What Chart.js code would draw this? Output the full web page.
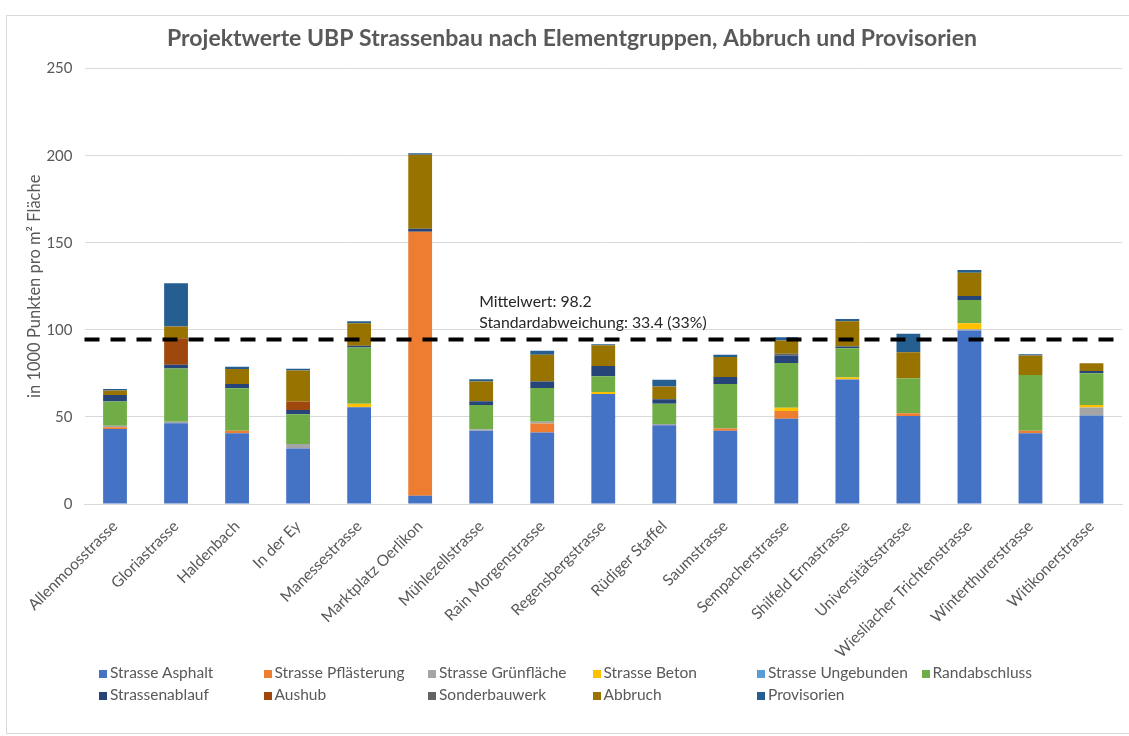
<!DOCTYPE html>
<html>
<head>
<meta charset="utf-8">
<script src="https://cdn.jsdelivr.net/npm/chart.js@4"></script>
<style>
  body { margin: 0; background: #fff; }
  #wrap { position: relative; width: 1129px; height: 736px; overflow: hidden; }
  #frame { position: absolute; left: 6px; top: 15px; width: 1140px; height: 717px; border: 1px solid #d9d9d9; }
  #legend { position: absolute; left: 0; top: 0; font-family: Lato, sans-serif; font-size: 15.5px; color: #595959; }
  .item { position: absolute; white-space: nowrap; line-height: 16px; }
  .box { display: inline-block; width: 8px; height: 8px; margin-right: 3px; vertical-align: 0px; }
</style>
</head>
<body>
<div id="wrap">
  <div id="frame"></div>
  <canvas id="chart" width="1129" height="736"></canvas>
  <div id="legend"></div>
</div>
<script>
const labels = ["Allenmoosstrasse", "Gloriastrasse", "Haldenbach", "In der Ey", "Manessestrasse",
  "Marktplatz Oerlikon", "Mühlezellstrasse", "Rain Morgenstrasse", "Regensbergstrasse", "Rüdiger Staffel",
  "Saumstrasse", "Sempacherstrasse", "Shilfeld Ernastrasse", "Universitätsstrasse",
  "Wiesliacher Trichtenstrasse", "Winterthurerstrasse", "Witikonerstrasse"];

const asphalt      = [43, 46.4, 40.6, 31.8, 55.6, 4.8, 42.1, 41, 63.2, 45.2, 42.1, 49, 71.5, 50.6, 99.6, 40.6, 50.8];
const pflaesterung = [1, 0, 1.5, 0, 0, 151.5, 0, 5.2, 0, 0, 1.3, 4.4, 0, 1.5, 0, 1.5, 0];
const gruenflaeche = [1, 0.8, 0, 2.7, 0, 0, 0.8, 1, 0, 0.8, 0, 0, 0, 0, 0.8, 0, 4.6];
const beton        = [0, 0, 0, 0, 1.9, 0, 0, 0, 1.1, 0, 0, 1.9, 1.1, 0, 3.4, 0, 1.5];
const ungebunden   = [0, 0, 0, 0, 0, 0, 0, 0, 0, 0, 0, 0, 0, 0, 0, 0, 0];
const randabschluss= [13.8, 30.6, 24.3, 17, 32.3, 0, 14, 19.4, 9, 11.5, 25.5, 25.7, 16.9, 20.1, 13.4, 32, 18.2];
const ablauf       = [3.8, 2.1, 2.5, 2.5, 1, 1.7, 2.1, 3.8, 5.9, 2.7, 4, 4.2, 1, 0, 2.3, 0, 1.3];
const aushub       = [0, 15.3, 0, 4.8, 0, 0, 0, 0, 0, 0, 0, 0, 0, 0, 0, 0, 0];
const sonderbau    = [0, 0, 0, 0, 0, 0, 0, 0, 0, 0, 0, 1, 0, 0, 0, 0, 0];
const abbruch      = [2.5, 6.7, 8.6, 17.8, 13, 42.6, 11.3, 15.3, 11.9, 7.3, 11.5, 7.7, 14.4, 15, 13.3, 11.1, 4.4];
const provisorien  = [1, 24.9, 1.3, 1, 1.2, 0.8, 1.3, 2.3, 0.6, 3.8, 1.3, 1.9, 1.3, 10.5, 1.5, 0.8, 0];

const meanLineValue = 94.4;
const meanText = ["Mittelwert: 98.2", "Standardabweichung: 33.4 (33%)"];

function ds(label, data, color) {
  return { label: label, data: data, backgroundColor: color, borderWidth: 0,
           categoryPercentage: 1, barPercentage: 0.39 };
}

const datasets = [
  ds("Strasse Asphalt", asphalt, "#4472C4"),
  ds("Strasse Pflästerung", pflaesterung, "#ED7D31"),
  ds("Strasse Grünfläche", gruenflaeche, "#A5A5A5"),
  ds("Strasse Beton", beton, "#FFC000"),
  ds("Strasse Ungebunden", ungebunden, "#5B9BD5"),
  ds("Randabschluss", randabschluss, "#70AD47"),
  ds("Strassenablauf", ablauf, "#264478"),
  ds("Aushub", aushub, "#9E480E"),
  ds("Sonderbauwerk", sonderbau, "#636363"),
  ds("Abbruch", abbruch, "#997300"),
  ds("Provisorien", provisorien, "#255E91")
];

// dashed mean line + text
const meanPlugin = {
  id: 'meanLine',
  afterDatasetsDraw(chart) {
    const ctx = chart.ctx, y = chart.scales.y, x = chart.scales.x;
    const py = y.getPixelForValue(meanLineValue);
    ctx.save();
    ctx.strokeStyle = "#000";
    ctx.lineWidth = 4;
    ctx.setLineDash([15, 11]);
    ctx.beginPath();
    ctx.moveTo(chart.chartArea.left, py);
    ctx.lineTo(chart.chartArea.right, py);
    ctx.stroke();
    ctx.setLineDash([]);
    ctx.fillStyle = "#262626";
    ctx.font = "15.8px Lato";
    ctx.textBaseline = "middle";
    const tx = x.getPixelForValue(6) - 2;
    ctx.fillText(meanText[0], tx, y.getPixelForValue(116));
    ctx.fillText(meanText[1], tx, y.getPixelForValue(104));
    ctx.restore();
  }
};

const chart = new Chart(document.getElementById("chart"), {
  type: 'bar',
  data: { labels: labels, datasets: datasets },
  plugins: [meanPlugin],
  options: {
    responsive: false,
    animation: false,
    layout: { padding: { left: 22, right: 7, top: 25, bottom: 0 } },
    plugins: {
      legend: { display: false },
      tooltip: { enabled: false },
      title: {
        display: true,
        text: "Projektwerte UBP Strassenbau nach Elementgruppen, Abbruch und Provisorien",
        color: "#595959",
        font: { family: "Lato", size: 23, weight: "bold" },
        padding: { top: 0, bottom: 16 }
      }
    },
    scales: {
      x: {
        stacked: true,
        grid: { display: false },
        border: { color: "#d9d9d9" },
        ticks: { color: "#595959", font: { family: "Lato", size: 15.5 }, minRotation: 45, maxRotation: 45, padding: 5, autoSkip: false },
        afterFit(scale) { scale.height = 232; }
      },
      y: {
        stacked: true,
        min: 0, max: 250,
        ticks: { stepSize: 50, color: "#595959", font: { family: "Lato", size: 15 }, padding: 12 },
        grid: { color: "#d9d9d9", drawTicks: false },
        border: { display: false },
        title: { display: true, text: "in 1000 Punkten pro m² Fläche", color: "#595959",
                 font: { family: "Lato", size: 16.5 }, padding: { top: 3, bottom: 0 } },
        afterFit(scale) { scale.width = 62.5; }
      }
    }
  }
});

// legend built from the chart datasets
const leg = document.getElementById("legend");
chart.data.datasets.forEach((d, i) => {
  const col = i % 6, row = Math.floor(i / 6);
  const el = document.createElement("div");
  el.className = "item";
  el.style.left = (99 + col * 164.5) + "px";
  el.style.top = (664 + row * 22) + "px";
  el.innerHTML = '<span class="box" style="background:' + d.backgroundColor + '"></span>' + d.label;
  leg.appendChild(el);
});
</script>
</body>
</html>
